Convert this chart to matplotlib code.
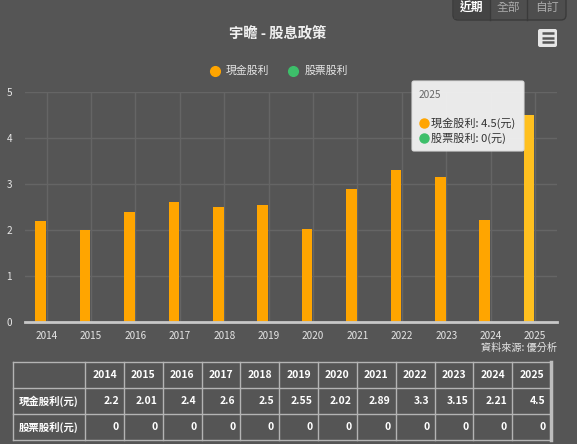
import matplotlib
matplotlib.use('Agg')
import matplotlib.pyplot as plt
from matplotlib.patches import FancyBboxPatch, Rectangle
import numpy as np

plt.rcParams['font.family'] = ['Noto Sans CJK TC', 'DejaVu Sans']

# data
years = ['2014', '2015', '2016', '2017', '2018', '2019', '2020', '2021', '2022', '2023', '2024', '2025']
cash = [2.2, 2.01, 2.4, 2.6, 2.5, 2.55, 2.02, 2.89, 3.3, 3.15, 2.21, 4.5]
stock = [0, 0, 0, 0, 0, 0, 0, 0, 0, 0, 0, 0]
cash_labels = ['2.2', '2.01', '2.4', '2.6', '2.5', '2.55', '2.02', '2.89', '3.3', '3.15', '2.21', '4.5']
stock_labels = ['0'] * 12
row_names = ['現金股利(元)', '股票股利(元)']

bg = '#555555'
grid_c = '#656565'
txt_c = '#e6e6e6'
orange = '#ffa500'
orange_hover = '#ffc01f'
green = '#3dbf6a'

W, H = 577, 444
fig = plt.figure(figsize=(W / 100, H / 100), dpi=100, facecolor=bg)

# main chart
ax = fig.add_axes([24.5 / W, 1 - 322.3 / H, (557.2 - 24.5) / W, (322.3 - 91.7) / H])
ax.set_facecolor(bg)
x = np.arange(len(years))
colors = [orange] * (len(years) - 1) + [orange_hover]
ax.bar(x - 0.135, cash, width=0.24, color=colors, zorder=3)
ax.bar(x + 0.135, stock, width=0.24, color=green, zorder=3)
ax.set_xlim(-0.5, len(years) - 0.5)
ax.set_ylim(0, 5)
ax.set_yticks([0, 1, 2, 3, 4, 5])
ax.set_xticks(x)
ax.set_xticklabels(years)
ax.grid(True, color=grid_c, linewidth=1, zorder=0)
for s in ['top', 'right', 'left']:
    ax.spines[s].set_visible(False)
ax.spines['bottom'].set_color('#c8c8c8')
ax.spines['bottom'].set_linewidth(2)
ax.spines['bottom'].set_zorder(4)
ax.tick_params(axis='both', length=0, colors=txt_c, labelsize=7.2)
ax.tick_params(axis='x', pad=6)
ax.tick_params(axis='y', pad=9)

# overlay in pixel coordinates
ov = fig.add_axes([0, 0, 1, 1], zorder=5)
ov.set_xlim(0, W)
ov.set_ylim(H, 0)
ov.axis('off')
ov.patch.set_visible(False)

ov.text(278, 33, '宇瞻 - 股息政策', ha='center', va='center', color='#f0f0f0',
        fontsize=10.3, fontweight='bold')

# legend
ov.plot(215, 71, 'o', ms=7, color=orange)
ov.text(226, 71, '現金股利', va='center', color=txt_c, fontsize=7.8)
ov.plot(293, 71, 'o', ms=7, color=green)
ov.text(305, 71, '股票股利', va='center', color=txt_c, fontsize=7.8)

# buttons
btn = ['近期', '全部', '自訂']
bx = [453, 490, 527, 566]
ov.add_patch(FancyBboxPatch((453, -6), 113, 26, boxstyle='round,pad=0,rounding_size=5',
                            facecolor='#4e4e4e', edgecolor='#3a3a3a', lw=1))
ov.add_patch(Rectangle((453.5, 0), 36.5, 19.5, facecolor='#444444', edgecolor='none'))
for i, b in enumerate(btn):
    ov.text((bx[i] + bx[i + 1]) / 2, 8, b, ha='center', va='center', fontsize=8.5,
            color='#ffffff' if i == 0 else '#aaaaaa', fontweight='bold' if i == 0 else 'normal')
    if i > 0:
        ov.plot([bx[i], bx[i]], [0, 20], color='#3a3a3a', lw=1)

# menu icon
ov.add_patch(FancyBboxPatch((538, 29), 19, 18, boxstyle='round,pad=0,rounding_size=2',
                            facecolor='#e6e6e6', edgecolor='none'))
for yy in [33.5, 38, 42.5]:
    ov.plot([541.5, 553.5], [yy, yy], color='#555555', lw=1.8, solid_capstyle='butt')

# source
ov.text(557, 348, '資料來源: 優分析', ha='right', va='center', color=txt_c, fontsize=7.3)

# tooltip
ov.add_patch(FancyBboxPatch((412, 81), 112, 70, boxstyle='round,pad=0,rounding_size=2',
                            facecolor='#f0f0f0', edgecolor='#dddddd', lw=0.8, alpha=0.97))
ov.text(419, 95, years[-1], va='center', color='#666666', fontsize=7.3)
ov.plot(423.5, 123.5, 'o', ms=6.5, color=orange)
ov.text(431, 123.5, f'現金股利: {cash_labels[-1]}(元)', va='center', color='#333333', fontsize=8)
ov.plot(423.5, 138, 'o', ms=6.5, color=green)
ov.text(431, 138, f'股票股利: {stock_labels[-1]}(元)', va='center', color='#333333', fontsize=8)

# table
tl, tr = 13, 551
c0 = 85
cw = (tr - c0) / len(years)
rows_y = [362.3, 388.3, 414.3, 440]
line_c = '#b4b4b4'
for yy in rows_y:
    ov.plot([tl, tr], [yy, yy], color=line_c, lw=1)
ov.plot([tl, tl], [rows_y[0], rows_y[-1]], color=line_c, lw=1)
ov.plot([c0, c0], [rows_y[0], rows_y[-1]], color=line_c, lw=1)
for i in range(1, len(years)):
    xx = c0 + i * cw
    ov.plot([xx, xx], [rows_y[0], rows_y[-1]], color=line_c, lw=1)
ov.plot([tr, tr], [rows_y[0], rows_y[-1]], color='#bdbdbd', lw=2.5)

for i, yr in enumerate(years):
    ov.text(c0 + (i + 0.5) * cw, (rows_y[0] + rows_y[1]) / 2, yr, ha='center', va='center',
            color='#ffffff', fontsize=7.5, fontweight='bold')
    ov.text(c0 + (i + 1) * cw - 5, (rows_y[1] + rows_y[2]) / 2, cash_labels[i], ha='right',
            va='center', color='#ffffff', fontsize=7.5, fontweight='bold')
    ov.text(c0 + (i + 1) * cw - 5, (rows_y[2] + rows_y[3]) / 2, stock_labels[i], ha='right',
            va='center', color='#ffffff', fontsize=7.5, fontweight='bold')
for j, rn in enumerate(row_names):
    ov.text(tl + 6, (rows_y[j + 1] + rows_y[j + 2]) / 2, rn, ha='left', va='center',
            color='#ffffff', fontsize=7.5, fontweight='bold')

fig.savefig('out.png', dpi=100, facecolor=bg)
